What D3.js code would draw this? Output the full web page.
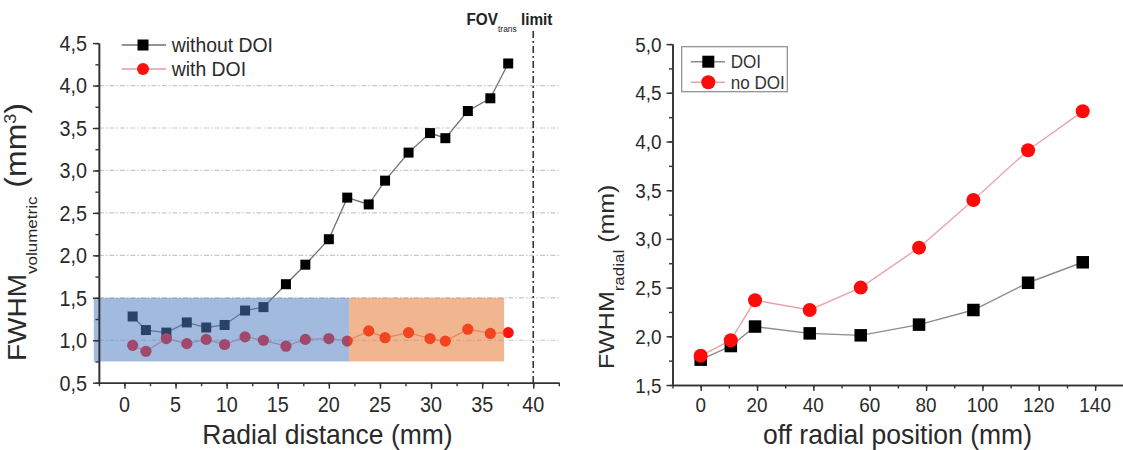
<!DOCTYPE html>
<html>
<head>
<meta charset="utf-8">
<script src="https://cdn.jsdelivr.net/npm/d3@7"></script>
<style>
  html, body { margin: 0; padding: 0; background: #fff; }
  svg { display: block; font-family: "Liberation Sans", Arial, sans-serif; }
</style>
</head>
<body>
<svg id="fig" width="1123" height="450"></svg>
<script>
// ---- Left panel: volumetric FWHM vs radial distance ----
const radialDist = [0.8, 2.1, 4.1, 6.1, 8.0, 9.8, 11.8, 13.6, 15.8, 17.7, 20.0, 21.8, 23.9, 25.5, 27.8, 29.9, 31.4, 33.6, 35.8, 37.55];
const volWithoutDOI = [1.28, 1.12, 1.09, 1.21, 1.15, 1.18, 1.35, 1.39, 1.66, 1.89, 2.19, 2.68, 2.60, 2.88, 3.21, 3.44, 3.38, 3.70, 3.85, 4.26];
const volWithDOI = [0.94, 0.87, 1.02, 0.96, 1.01, 0.95, 1.04, 1.00, 0.93, 1.01, 1.02, 0.99, 1.11, 1.03, 1.09, 1.02, 0.99, 1.13, 1.08, 1.09];
const leftXTicks = [0, 5, 10, 15, 20, 25, 30, 35, 40];
const leftYTicks = [0.5, 1.0, 1.5, 2.0, 2.5, 3.0, 3.5, 4.0, 4.5];
const leftGrid = [1.0, 1.5, 2.0, 2.5, 3.0, 3.5, 4.0];
const zoneX = [[-3, 22], [22, 37.15]];
const zoneY = [0.75, 1.5];
const fovLimit = 40;
const leftLegend = ["without DOI", "with DOI"];

// ---- Right panel: radial FWHM vs off radial position ----
const offRadial = [0, 10.7, 19.3, 38.7, 56.8, 77.5, 96.8, 116.2, 135.6];
const radDOI = [1.76, 1.90, 2.10, 2.03, 2.01, 2.12, 2.27, 2.55, 2.76];
const radNoDOI = [1.80, 1.96, 2.37, 2.27, 2.50, 2.91, 3.40, 3.91, 4.31];
const rightXTicks = [0, 20, 40, 60, 80, 100, 120, 140];
const rightYTicks = [1.5, 2.0, 2.5, 3.0, 3.5, 4.0, 4.5, 5.0];
const rightLegend = ["DOI", "no DOI"];

const svg = d3.select("#fig");
const AXIS = "#333";
const TEXT = "#2a2a2a";
const comma = v => d3.format(".1f")(v).replace(".", ",");

// text placed with a slight horizontal compression
function label(g, x, y, str, size, anchor, sx = 0.9) {
  return g.append("text")
    .attr("transform", `translate(${x},${y}) scale(${sx},1)`)
    .attr("text-anchor", anchor)
    .attr("fill", TEXT)
    .style("font-size", size + "px")
    .text(str);
}

function styleAxis(sel) {
  sel.select(".domain").attr("stroke", AXIS).attr("stroke-width", 1.6);
  sel.selectAll(".tick line").attr("stroke", AXIS).attr("stroke-width", 1.4);
  sel.selectAll(".tick text").remove();
}

function drawAxes(g, x, y, xTicks, xMinorStep, yTicks, yMinorStep, fs, yLabelGap) {
  const [x0, x1] = x.domain();
  const [y0, y1] = y.domain();
  const xMinor = d3.range(Math.ceil(x0 / xMinorStep) * xMinorStep, x1 + 1e-9, xMinorStep);
  const yMinor = d3.range(y0, y1 + 1e-9, yMinorStep);
  const yBase = y(y0), xBase = x(x0);

  g.append("g").attr("transform", `translate(0,${yBase})`)
    .call(d3.axisBottom(x).tickValues(xMinor).tickSize(3.5).tickSizeOuter(0).tickFormat(""))
    .call(styleAxis);
  g.append("g").attr("transform", `translate(0,${yBase})`)
    .call(d3.axisBottom(x).tickValues(xTicks).tickSize(6).tickSizeOuter(0).tickFormat(""))
    .call(styleAxis);
  g.append("g").attr("transform", `translate(${xBase},0)`)
    .call(d3.axisLeft(y).tickValues(yMinor).tickSize(3.5).tickSizeOuter(0).tickFormat(""))
    .call(styleAxis);
  g.append("g").attr("transform", `translate(${xBase},0)`)
    .call(d3.axisLeft(y).tickValues(yTicks).tickSize(6).tickSizeOuter(0).tickFormat(""))
    .call(styleAxis);

  xTicks.forEach(v => label(g, x(v), 411.5, String(v), fs, "middle"));
  yTicks.forEach(v => label(g, xBase - yLabelGap, y(v) + fs * 0.36, comma(v), fs, "end"));
}

function series(g, x, y, xs, ys, lineColor, lineWidth) {
  const pts = xs.map((d, i) => [d, ys[i]]);
  g.append("path")
    .attr("d", d3.line().x(d => x(d[0])).y(d => y(d[1]))(pts))
    .attr("fill", "none").attr("stroke", lineColor).attr("stroke-width", lineWidth);
  return pts;
}

function squares(g, x, y, pts, size, fill) {
  g.selectAll(null).data(pts).join("rect")
    .attr("x", d => x(d[0]) - size / 2).attr("y", d => y(d[1]) - size / 2)
    .attr("width", size).attr("height", size).attr("fill", fill);
}

function circles(g, x, y, pts, r, fill) {
  g.selectAll(null).data(pts).join("circle")
    .attr("cx", d => x(d[0])).attr("cy", d => y(d[1])).attr("r", r).attr("fill", fill);
}

// ================= LEFT PANEL =================
{
  const g = svg.append("g");
  const x = d3.scaleLinear().domain([-2.5, 42.5]).range([98.9, 558.8]);
  const y = d3.scaleLinear().domain([0.5, 4.5]).range([382.7, 43.1]);

  // dashed grid
  g.append("g").selectAll("line").data(leftGrid).join("line")
    .attr("x1", x(-2.5)).attr("x2", x(42.5))
    .attr("y1", d => y(d)).attr("y2", d => y(d))
    .attr("stroke", "#c4c6dc").attr("stroke-width", 1.2)
    .attr("stroke-dasharray", "5,2,1.5,2");

  // FOV limit line
  g.append("line")
    .attr("x1", x(fovLimit)).attr("x2", x(fovLimit))
    .attr("y1", 31).attr("y2", y(0.5))
    .attr("stroke", "#333").attr("stroke-width", 1.6)
    .attr("stroke-dasharray", "7,3,2,3");

  const p1 = series(g, x, y, radialDist, volWithoutDOI, "#707070", 1.3);
  const p2 = series(g, x, y, radialDist, volWithDOI, "#e79aa2", 1.3);
  squares(g, x, y, p1, 10, "#000");
  circles(g, x, y, p2, 5.6, "#ff1010");

  // translucent zones over the data
  const zoneColors = ["#4d7cbf", "#e4732e"];
  g.selectAll(null).data(zoneX).join("rect")
    .attr("x", d => x(d[0])).attr("width", d => x(d[1]) - x(d[0]))
    .attr("y", y(zoneY[1])).attr("height", y(zoneY[0]) - y(zoneY[1]))
    .attr("fill", (d, i) => zoneColors[i]).attr("fill-opacity", 0.53);

  drawAxes(g, x, y, leftXTicks, 2.5, leftYTicks, 0.25, 22, 12);

  // legend
  const lg = g.append("g");
  [[45, "#707070"], [69, "#e79aa2"]].forEach(([ly, c], i) => {
    lg.append("line").attr("x1", 121.7).attr("x2", 166).attr("y1", ly).attr("y2", ly)
      .attr("stroke", c).attr("stroke-width", 1.5);
    if (i === 0) lg.append("rect").attr("x", 143 - 5.5).attr("y", ly - 5.5).attr("width", 11).attr("height", 11).attr("fill", "#000");
    else lg.append("circle").attr("cx", 143).attr("cy", ly).attr("r", 6).attr("fill", "#ff1010");
    label(lg, 171.7, ly + 7, leftLegend[i], 20, "start", 0.97);
  });

  // FOV label
  const fov = g.append("text").attr("transform", "translate(466.5,25) scale(0.93,1)")
    .attr("fill", "#222").style("font-size", "16.5px").style("font-weight", "bold");
  fov.append("tspan").text("FOV");
  fov.append("tspan").attr("dy", 6.5).style("font-size", "9px").style("font-weight", "normal").text("trans");
  fov.append("tspan").attr("dy", -6.5).text(" limit");

  // axis titles
  label(g, 327.5, 443.5, "Radial distance (mm)", 28.5, "middle", 0.93);
  const yt = g.append("text")
    .attr("transform", "translate(26,361) scale(0.9,1) rotate(-90)")
    .attr("fill", TEXT).style("font-size", "28px");
  yt.append("tspan").text("FWHM");
  yt.append("tspan").attr("dy", 12).style("font-size", "17px").text("volumetric");
  yt.append("tspan").attr("dy", -12).style("font-size", "32px").text(" (mm");
  yt.append("tspan").attr("dy", -11).style("font-size", "18px").text("3");
  yt.append("tspan").attr("dy", 11).style("font-size", "32px").text(")");
}

// ================= RIGHT PANEL =================
{
  const g = svg.append("g");
  const x = d3.scaleLinear().domain([-10, 150]).range([672.5, 1123.3]);
  const y = d3.scaleLinear().domain([1.5, 5.0]).range([385, 44.1]);

  const pA = series(g, x, y, offRadial, radDOI, "#8c8c8c", 1.4);
  const pB = series(g, x, y, offRadial, radNoDOI, "#eba3ab", 1.4);
  squares(g, x, y, pA, 12.5, "#000");
  circles(g, x, y, pB, 7, "#ff0a0a");

  drawAxes(g, x, y, rightXTicks, 10, rightYTicks, 0.25, 21, 11);

  // legend box
  const lg = g.append("g");
  lg.append("rect").attr("x", 681.7).attr("y", 46.7).attr("width", 105.6).attr("height", 45)
    .attr("fill", "#fff").attr("stroke", "#8a8a8a").attr("stroke-width", 1.2);
  [[61.7, "#8c8c8c"], [82.3, "#eba3ab"]].forEach(([ly, c], i) => {
    lg.append("line").attr("x1", 690.7).attr("x2", 725).attr("y1", ly).attr("y2", ly)
      .attr("stroke", c).attr("stroke-width", 1.4);
    if (i === 0) lg.append("rect").attr("x", 708.3 - 6).attr("y", ly - 6).attr("width", 12).attr("height", 12).attr("fill", "#000");
    else lg.append("circle").attr("cx", 708.3).attr("cy", ly).attr("r", 7).attr("fill", "#ff0a0a");
    label(lg, 730.7, ly + 6.3, rightLegend[i], 18, "start", 0.95).attr("fill", "#333");
  });

  // axis titles
  label(g, 897.5, 443.5, "off radial position (mm)", 28.5, "middle", 0.93);
  const yt = g.append("text")
    .attr("transform", "translate(614,369) scale(0.9,1) rotate(-90)")
    .attr("fill", TEXT).style("font-size", "25px");
  yt.append("tspan").text("FWHM");
  yt.append("tspan").attr("dy", 11).style("font-size", "17px").text("radial");
  yt.append("tspan").attr("dy", -11).text(" (mm)");
}
</script>
</body>
</html>
